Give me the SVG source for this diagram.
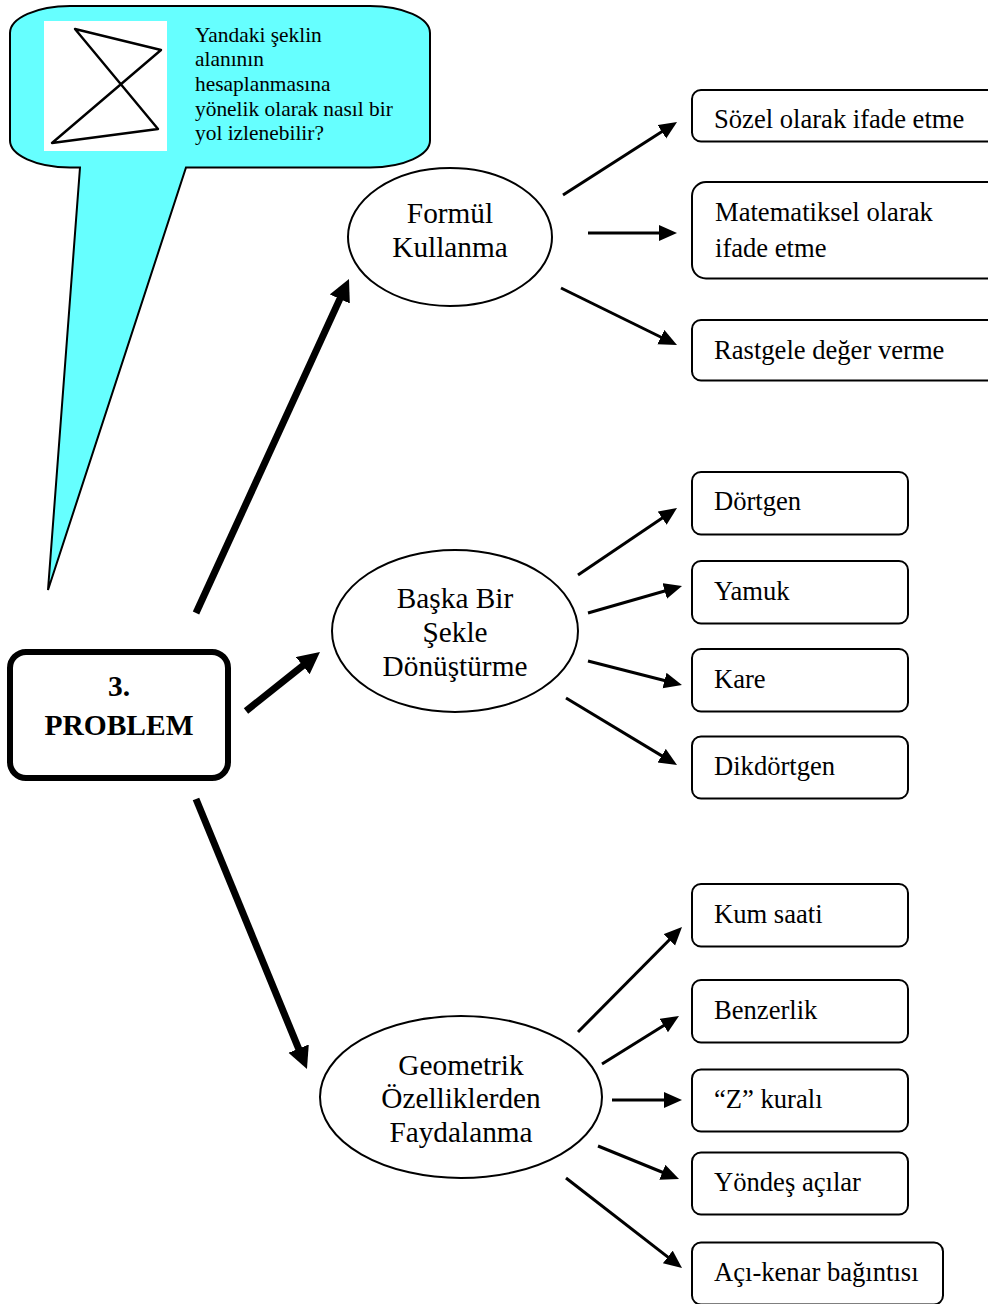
<svg xmlns="http://www.w3.org/2000/svg" width="988" height="1304" viewBox="0 0 988 1304">
<style>
text{font-family:"Liberation Serif","Times New Roman",serif;fill:#000}
.n{font-size:26.6px;transform:translateY(.5px)}
.e{font-size:29.3px;text-anchor:middle}
.b{font-size:21.4px}
.p{font-size:29.5px;font-weight:bold;text-anchor:middle}
.box{fill:#fff;stroke:#000;stroke-width:2}
.thin{fill:none;stroke:#000;stroke-width:3;marker-end:url(#a)}
.thick{fill:none;stroke:#000;stroke-width:7;marker-end:url(#A)}
</style>
<defs>
<marker id="a" markerUnits="userSpaceOnUse" markerWidth="20" markerHeight="18" refX="10" refY="8" orient="auto"><path d="M0 0L18 8L0 16Z" fill="#000"/></marker>
<marker id="A" markerUnits="userSpaceOnUse" markerWidth="24" markerHeight="24" refX="10" refY="11" orient="auto"><path d="M0 0L22 11L0 22Z" fill="#000"/></marker>
</defs>
<rect width="988" height="1304" fill="#fff"/>
<g id="bubble">
<path d="M80 167.500H70A60 27 0 0 1 10 140V33A60 27 0 0 1 70 6H370A60 27 0 0 1 430 33V140A60 27 0 0 1 370 167.500H186L48 590Z" fill="#6ff" stroke="#000" stroke-width="2"/>
<rect x="44" y="21" width="123" height="130" fill="#fff"/>
<path d="M75 29L161 50L52 143L158 129Z" fill="none" stroke="#000" stroke-width="2.400" stroke-linejoin="round"/>
<text class="b" x="195" y="42">Yandaki şeklin</text>
<text class="b" x="195" y="66">alanının</text>
<text class="b" x="195" y="91">hesaplanmasına</text>
<text class="b" x="195" y="116">yönelik olarak nasıl bir</text>
<text class="b" x="195" y="140">yol izlenebilir?</text>
</g>
<g id="problem">
<rect x="10" y="652" width="218" height="126" rx="16" fill="#fff" stroke="#000" stroke-width="6"/>
<text class="p" x="119" y="696">3.</text>
<text class="p" x="119" y="735">PROBLEM</text>
</g>
<g id="formul"><ellipse cx="450" cy="237" rx="102" ry="69" class="box"/>
<text class="e" x="450" y="223">Formül</text><text class="e" x="450" y="257">Kullanma</text></g>
<g id="baska"><ellipse cx="455" cy="631" rx="123" ry="81" class="box"/>
<text class="e" x="455" y="608">Başka Bir</text><text class="e" x="455" y="642">Şekle</text><text class="e" x="455" y="676">Dönüştürme</text></g>
<g id="geometrik"><ellipse cx="461" cy="1097" rx="141" ry="81" class="box"/>
<text class="e" x="461" y="1075">Geometrik</text><text class="e" x="461" y="1108">Özelliklerden</text><text class="e" x="461" y="1142">Faydalanma</text></g>
<g id="n1"><rect x="692" y="90" width="320" height="51.500" rx="9" class="box"/><text class="n" x="714" y="127">Sözel olarak ifade etme</text></g>
<g id="n2"><rect x="692" y="182" width="320" height="96.500" rx="14" class="box"/><text class="n" x="715" y="220">Matematiksel olarak</text><text class="n" x="715" y="256">ifade etme</text></g>
<g id="n3"><rect x="692" y="320" width="320" height="60.500" rx="9" class="box"/><text class="n" x="714" y="358">Rastgele değer verme</text></g>
<g id="n4"><rect x="692" y="472" width="216" height="62.500" rx="9" class="box"/><text class="n" x="714" y="509">Dörtgen</text></g>
<g id="n5"><rect x="692" y="561" width="216" height="62.500" rx="9" class="box"/><text class="n" x="714" y="599">Yamuk</text></g>
<g id="n6"><rect x="692" y="649" width="216" height="62.500" rx="9" class="box"/><text class="n" x="714" y="687">Kare</text></g>
<g id="n7"><rect x="692" y="736.500" width="216" height="62" rx="9" class="box"/><text class="n" x="714" y="774">Dikdörtgen</text></g>
<g id="n8"><rect x="692" y="884" width="216" height="62.500" rx="9" class="box"/><text class="n" x="714" y="922">Kum saati</text></g>
<g id="n9"><rect x="692" y="980" width="216" height="62.500" rx="9" class="box"/><text class="n" x="714" y="1018">Benzerlik</text></g>
<g id="n10"><rect x="692" y="1069.500" width="216" height="62" rx="9" class="box"/><text class="n" x="714" y="1107">“Z” kuralı</text></g>
<g id="n11"><rect x="692" y="1152.500" width="216" height="62" rx="9" class="box"/><text class="n" x="714" y="1190">Yöndeş açılar</text></g>
<g id="n12"><rect x="692" y="1242.500" width="251" height="62" rx="9" class="box"/><text class="n" x="714" y="1280">Açı-kenar bağıntısı</text></g>
<g id="connectors">
<path class="thick" d="M196 613L344 289.900"/>
<path class="thick" d="M246 711L310.600 659.500"/>
<path class="thick" d="M196 799L302.400 1057.900"/>
<path class="thin" d="M563 195L670.300 126.300"/>
<path class="thin" d="M588 233H669"/>
<path class="thin" d="M561 288L669.800 341.500"/>
<path class="thin" d="M578 575L670.400 512.500"/>
<path class="thin" d="M588 613L674.300 588.200"/>
<path class="thin" d="M588 661L674.200 683"/>
<path class="thin" d="M566 698L670.200 760.900"/>
<path class="thin" d="M578 1032L676.400 932.700"/>
<path class="thin" d="M602 1064L672.200 1020.200"/>
<path class="thin" d="M612 1100H674"/>
<path class="thin" d="M598 1146L671.600 1176"/>
<path class="thin" d="M566 1178L675.700 1263.100"/>
</g>
</svg>
